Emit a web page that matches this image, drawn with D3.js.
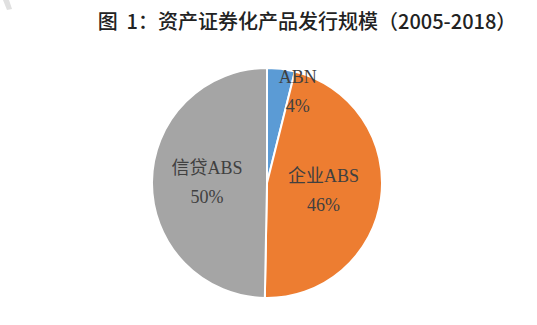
<!DOCTYPE html>
<html><head><meta charset="utf-8">
<script src="https://cdn.jsdelivr.net/npm/d3@7"></script>
<style>body{margin:0;background:#fff}</style>
</head><body>
<svg id="c" width="537" height="325"></svg>
<script>
const categories = ["ABN", "企业ABS", "信贷ABS"];
const values = [3.9, 46.4, 49.7];
const colors = ["#5B9BD5", "#ED7D31", "#A5A5A5"];
const title = "图 1：资产证券化产品发行规模（2005-2018）";

// label placement (style): radius and angle offset per slice
const labelR = [97, 57, 60];
const labelAngleOffset = [0.2, 0.00, 0.0];

const svg = d3.select("#c");
const cx = 267, cy = 183, R = 115;

// watermark fragment top-left
svg.append("path").attr("d", "M3,0 L9,0 L12,9 L7,10 Z").attr("fill", "#e0e0e0");

svg.append("text").attr("x", 307).attr("y", 29).attr("text-anchor", "middle")
  .attr("font-family", "'Noto Sans CJK SC', sans-serif").attr("font-weight", 500)
  .attr("font-size", 20).attr("fill", "#222").attr("xml:space", "preserve")
  .style("white-space", "pre").text(title.replace("图 1", "图  1"));

const total = d3.sum(values);
const data = categories.map((c, i) => ({cat: c, v: values[i], i}));
const pie = d3.pie().sort(null).value(d => d.v);
const arcs = pie(data);
const arc = d3.arc().innerRadius(0).outerRadius(R);

const g = svg.append("g").attr("transform", `translate(${cx},${cy})`);
g.selectAll("path.s").data(arcs).join("path").attr("class", "s")
  .attr("d", arc).attr("fill", d => colors[d.data.i])
  .attr("stroke", "#fff").attr("stroke-width", 2).attr("stroke-linejoin", "round");

const lbl = g.selectAll("g.l").data(arcs).join("g").attr("class", "l")
  .attr("transform", d => {
    const a = (d.startAngle + d.endAngle) / 2 + labelAngleOffset[d.data.i];
    const r = labelR[d.data.i];
    return `translate(${r * Math.sin(a)},${-r * Math.cos(a)})`;
  });
const font = "'Liberation Serif', 'Noto Sans CJK SC', serif";
lbl.append("text").attr("text-anchor", "middle").attr("y", -8)
  .attr("font-family", font).attr("font-size", 18).attr("fill", "#404040")
  .text(d => d.data.cat);
lbl.append("text").attr("text-anchor", "middle").attr("y", 21)
  .attr("font-family", font).attr("font-size", 18).attr("fill", "#404040")
  .text(d => Math.round(d.data.v / total * 100) + "%");
</script>
</body></html>
